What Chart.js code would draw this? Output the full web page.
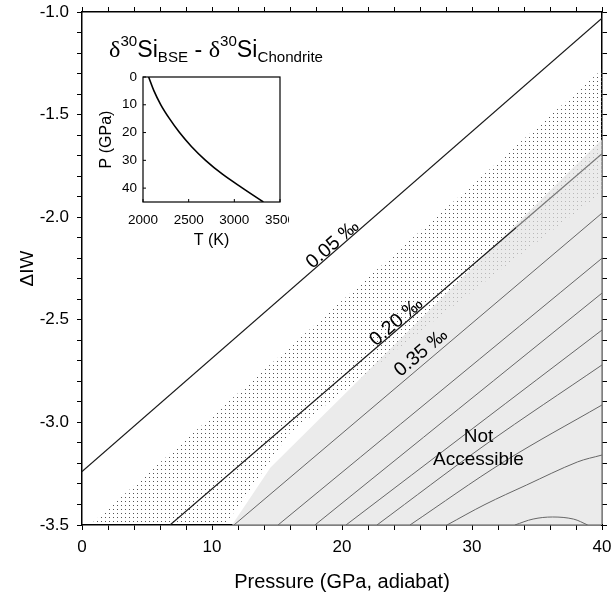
<!DOCTYPE html>
<html>
<head>
<meta charset="utf-8">
<script src="https://cdn.jsdelivr.net/npm/chart.js@4.4.1/dist/chart.umd.min.js"></script>
<style>
  html, body { margin: 0; padding: 0; background: #fff; overflow: hidden; }
  #wrap { position: relative; width: 612px; height: 599px; }
  #main { position: absolute; left: 0; top: 0; }
  #insetBox { position: absolute; left: 90px; top: 66px; width: 199px; height: 190px; overflow: hidden; }
</style>
</head>
<body>
<div id="wrap">
  <canvas id="main" width="612" height="599"></canvas>
  <div id="insetBox"><canvas id="inset" width="215" height="190"></canvas></div>
</div>
<script>
'use strict';

const FONT = '"Liberation Sans", Arial, Helvetica, sans-serif';
Chart.defaults.font.family = FONT;
Chart.defaults.color = '#000';

// --- values: pressure (GPa) vs ΔIW ---
const line005P = [0, 40];
const line005IW = [-3.24, -1.03];
const line020P = [6.77, 33.4, 40];
const line020IW = [-3.5, -2.05, -1.69];
const line035P = [11.69, 40];
const line035IW = [-3.5, -1.98];

// unlabelled contours inside the grey field
const contourP = [
    [15.08, 40],
    [17.92, 40],
    [20.31, 40],
    [22.69, 31, 40],
    [25.23, 32.5, 40],
    [28.08, 31, 34.2, 38.1, 40],
    [33.3, 34.7, 36.2, 37.8, 38.9]
];
const contourIW = [
    [-3.5, -2.2],
    [-3.5, -2.37],
    [-3.5, -2.55],
    [-3.5, -3.11, -2.72],
    [-3.5, -3.19, -2.915],
    [-3.5, -3.4, -3.305, -3.193, -3.159],
    [-3.5, -3.471, -3.461, -3.471, -3.5]
];

// outlines of the stippled band and of the grey "not accessible" field
const dottedP = [0.6, 40, 40, 28.8, 16, 11, 0.6];
const dottedIW = [-3.5, -1.28, -1.88, -2.42, -3.05, -3.5, -3.5];
const greyP = [11.54, 14.5, 40, 40, 11.54];
const greyIW = [-3.5, -3.22, -1.62, -3.5, -3.5];

// inset: adiabat T(P)
const adiabatT = [2062, 2120, 2195, 2290, 2400, 2530, 2685, 2870, 3090, 3318];
const adiabatP = [0, 5, 10, 15, 20, 25, 30, 35, 40, 45];

const lineLabels = [
    { text: '0.05 ‰', xs: line005P, ys: line005IW, at: 19.6, lift: 1 },
    { text: '0.20 ‰', xs: line020P, ys: line020IW, at: 24.5, lift: 1 },
    { text: '0.35 ‰', xs: line035P, ys: line035IW, at: 26.6, lift: 5 }
];

const toPoints = (xs, ys) => xs.map((x, i) => ({ x: x, y: ys[i] }));

function interp(xs, ys, x) {
    for (let i = 0; i < xs.length - 1; i++) {
        if (x >= xs[i] && x <= xs[i + 1]) {
            return ys[i] + (ys[i + 1] - ys[i]) * (x - xs[i]) / (xs[i + 1] - xs[i]);
        }
    }
    return ys[ys.length - 1];
}

// stipple pattern
const dotCanvas = document.createElement('canvas');
dotCanvas.width = 4;
dotCanvas.height = 4;
const dctx = dotCanvas.getContext('2d');
dctx.fillStyle = '#555';
dctx.fillRect(1, 1, 1, 1);
const dotPattern = dctx.createPattern(dotCanvas, 'repeat');

const datasets = [
    {
        data: toPoints(dottedP, dottedIW), showLine: true, fill: 'shape',
        backgroundColor: dotPattern, borderColor: 'transparent', borderWidth: 0,
        pointRadius: 0, order: 10
    },
    {
        data: toPoints(greyP, greyIW), showLine: true, fill: 'shape',
        backgroundColor: 'rgba(226,226,226,0.7)', borderColor: 'transparent', borderWidth: 0,
        pointRadius: 0, order: 9
    },
    {
        data: toPoints(line005P, line005IW), showLine: true, borderColor: '#1a1a1a',
        borderWidth: 1.2, pointRadius: 0, order: 2
    },
    {
        data: toPoints(line020P, line020IW), showLine: true, borderColor: '#1a1a1a',
        borderWidth: 1.2, pointRadius: 0, order: 2,
        segment: { borderColor: c => c.p0DataIndex >= 1 ? '#777' : '#1a1a1a' }
    },
    {
        data: toPoints(line035P, line035IW), showLine: true, borderColor: '#666',
        borderWidth: 1, pointRadius: 0, order: 1
    }
];
contourP.forEach((xs, k) => {
    datasets.push({
        data: toPoints(xs, contourIW[k]), showLine: true, borderColor: '#666',
        borderWidth: 1, pointRadius: 0, tension: 0.35, order: 1
    });
});

const annotate = {
    id: 'annotate',
    afterDatasetsDraw(chart) {
        const { ctx, scales } = chart;
        const sx = scales.x, sy = scales.y;
        ctx.save();
        ctx.fillStyle = '#000';

        // contour labels, rotated along their lines
        ctx.font = '19.5px ' + FONT;
        ctx.textAlign = 'center';
        ctx.textBaseline = 'alphabetic';
        lineLabels.forEach(l => {
            const x0 = sx.getPixelForValue(l.at), y0 = sy.getPixelForValue(interp(l.xs, l.ys, l.at));
            const x1 = sx.getPixelForValue(l.at + 1), y1 = sy.getPixelForValue(interp(l.xs, l.ys, l.at + 1));
            ctx.save();
            ctx.translate(x0, y0);
            ctx.rotate(Math.atan2(y1 - y0, x1 - x0));
            ctx.fillText(l.text, 0, -l.lift);
            ctx.restore();
        });

        // field label
        ctx.font = '19px ' + FONT;
        ctx.textBaseline = 'middle';
        ctx.fillText('Not', sx.getPixelForValue(30.5), sy.getPixelForValue(-3.071));
        ctx.fillText('Accessible', sx.getPixelForValue(30.5), sy.getPixelForValue(-3.183));

        // panel title: δ30Si_BSE - δ30Si_Chondrite
        const parts = [
            ['δ', 'greek'], ['30', 'sup'], ['Si', 'main'], ['BSE', 'sub'], [' - ', 'main'],
            ['δ', 'greek'], ['30', 'sup'], ['Si', 'main'], ['Chondrite', 'sub']
        ];
        const fonts = {
            greek: '24px "Liberation Serif", serif',
            main: '23px ' + FONT,
            sup: '15px ' + FONT,
            sub: '15px ' + FONT
        };
        const lift = { greek: 0, main: 0, sup: -11, sub: 5 };
        let total = 0;
        parts.forEach(p => { ctx.font = fonts[p[1]]; total += ctx.measureText(p[0]).width; });
        ctx.translate(109, 57);
        ctx.scale(214 / total, 1);
        ctx.textAlign = 'left';
        ctx.textBaseline = 'alphabetic';
        let cx = 0;
        parts.forEach(p => {
            ctx.font = fonts[p[1]];
            ctx.fillText(p[0], cx, lift[p[1]]);
            cx += ctx.measureText(p[0]).width;
        });
        ctx.restore();
    }
};

const tickFont = { size: 17 };
const noLabel = () => '';
const xMajor = v => (v % 10 === 0 ? String(v) : '');
const yMajor = v => (Math.abs(v * 2 - Math.round(v * 2)) < 1e-6 ? v.toFixed(1) : '');
const edgeGrid = { drawOnChartArea: false, drawTicks: true, tickLength: 5, color: '#000', lineWidth: 1 };
const edgeBorder = { display: true, color: '#000', width: 1.5 };

new Chart(document.getElementById('main'), {
    type: 'scatter',
    data: { datasets: datasets },
    options: {
        responsive: false,
        animation: false,
        events: [],
        layout: { padding: 0 },
        plugins: { legend: { display: false }, tooltip: { enabled: false } },
        scales: {
            x: {
                type: 'linear', position: 'bottom', min: 0, max: 40,
                ticks: { stepSize: 2, maxTicksLimit: 30, autoSkip: false, maxRotation: 0, padding: 7, font: tickFont, callback: xMajor },
                grid: edgeGrid, border: edgeBorder,
                title: { display: true, text: 'Pressure (GPa, adiabat)', font: { size: 20 }, padding: { top: 0, bottom: 5 } },
                afterFit: s => { s.height = 74; s.paddingLeft = 0; s.paddingRight = 0; }
            },
            x2: {
                type: 'linear', axis: 'x', position: 'top', min: 0, max: 40,
                ticks: { stepSize: 2, maxTicksLimit: 30, autoSkip: false, maxRotation: 0, callback: noLabel },
                grid: edgeGrid, border: edgeBorder,
                afterFit: s => { s.height = 12; s.paddingLeft = 0; s.paddingRight = 0; }
            },
            y: {
                type: 'linear', position: 'left', min: -3.5, max: -1.0,
                ticks: { stepSize: 0.1, maxTicksLimit: 30, autoSkip: false, padding: 8, font: tickFont, callback: yMajor },
                grid: edgeGrid, border: edgeBorder,
                title: { display: true, text: 'ΔIW', font: { size: 19 }, padding: { top: 16, bottom: 0 } },
                afterFit: s => { s.width = 82; s.paddingTop = 0; s.paddingBottom = 0; }
            },
            y2: {
                type: 'linear', axis: 'y', position: 'right', min: -3.5, max: -1.0,
                ticks: { stepSize: 0.1, maxTicksLimit: 30, autoSkip: false, callback: noLabel },
                grid: edgeGrid, border: edgeBorder,
                afterFit: s => { s.width = 10; s.paddingTop = 0; s.paddingBottom = 0; }
            }
        }
    },
    plugins: [annotate]
});

// inset frame with inward ticks
const insetFrame = {
    id: 'insetFrame',
    afterDatasetsDraw(chart) {
        const { ctx, chartArea: a, scales } = chart;
        ctx.save();
        ctx.strokeStyle = '#000';
        ctx.lineWidth = 1.2;
        ctx.strokeRect(a.left, a.top, a.right - a.left, a.bottom - a.top);
        ctx.beginPath();
        scales.x.ticks.forEach(t => {
            const px = scales.x.getPixelForValue(t.value);
            ctx.moveTo(px, a.bottom);
            ctx.lineTo(px, a.bottom - 3);
        });
        scales.y.ticks.forEach(t => {
            const py = scales.y.getPixelForValue(t.value);
            ctx.moveTo(a.left, py);
            ctx.lineTo(a.left + 3, py);
        });
        ctx.lineWidth = 1;
        ctx.stroke();
        ctx.restore();
    }
};

new Chart(document.getElementById('inset'), {
    type: 'scatter',
    data: {
        datasets: [{
            data: toPoints(adiabatT, adiabatP), showLine: true, borderColor: '#000',
            borderWidth: 1.6, pointRadius: 0, cubicInterpolationMode: 'monotone'
        }]
    },
    options: {
        responsive: false,
        animation: false,
        events: [],
        layout: { padding: { top: 11, right: 25, left: 0, bottom: 0 } },
        plugins: { legend: { display: false }, tooltip: { enabled: false } },
        scales: {
            x: {
                type: 'linear', min: 2000, max: 3500,
                ticks: { stepSize: 500, maxTicksLimit: 4, autoSkip: false, maxRotation: 0, padding: 10, font: { size: 13.5 }, callback: v => String(v) },
                grid: { display: false, drawTicks: false, tickLength: 0 },
                border: { display: false },
                title: { display: true, text: 'T (K)', font: { size: 16 }, padding: { top: 0, bottom: 6 } },
                afterFit: s => { s.height = 54; s.paddingLeft = 0; s.paddingRight = 0; }
            },
            y: {
                type: 'linear', reverse: true, min: 0, max: 45,
                ticks: { stepSize: 10, maxTicksLimit: 7, includeBounds: false, autoSkip: false, padding: 6, font: { size: 13.5 }, callback: v => String(v) },
                grid: { display: false, drawTicks: false, tickLength: 0 },
                border: { display: false },
                title: { display: true, text: 'P (GPa)', font: { size: 16 }, padding: { top: 7, bottom: 0 } },
                afterFit: s => { s.width = 53; s.paddingTop = 0; s.paddingBottom = 0; }
            }
        }
    },
    plugins: [insetFrame]
});
</script>
</body>
</html>
